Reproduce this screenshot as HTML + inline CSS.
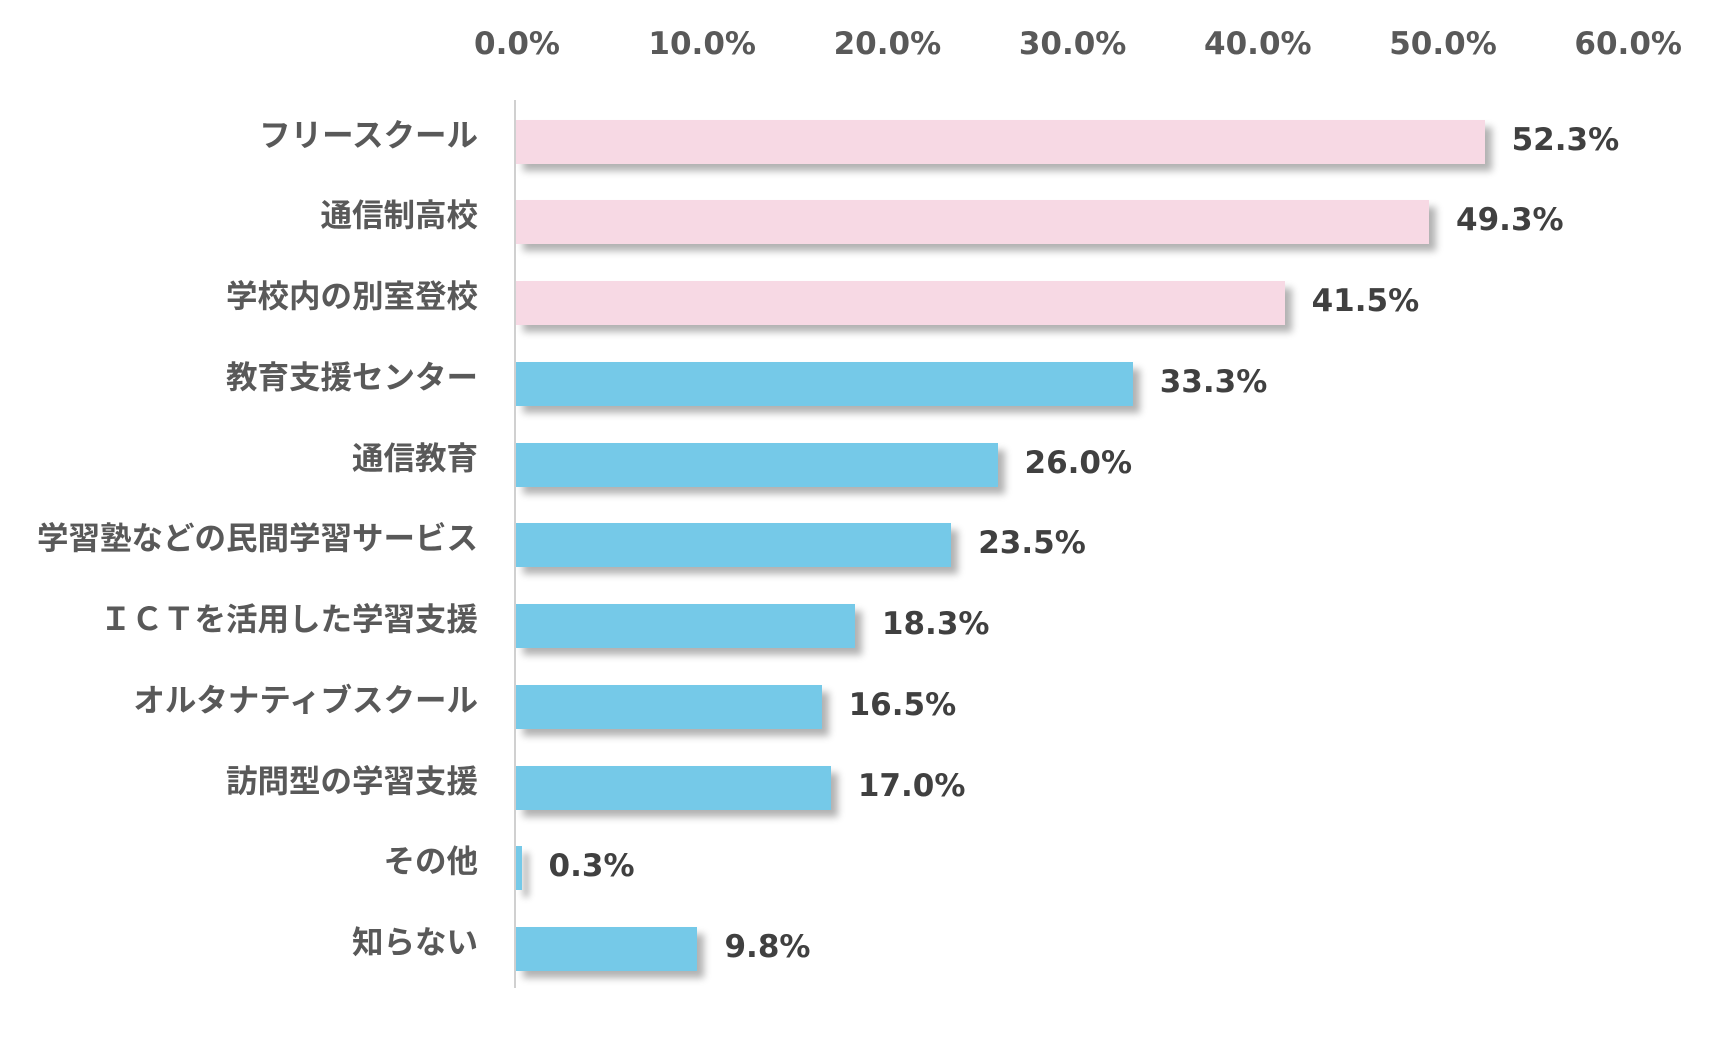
<!DOCTYPE html>
<html><head><meta charset="utf-8"><style>
body{margin:0;width:1733px;height:1039px;background:#fff;position:relative;overflow:hidden;font-family:"DejaVu Sans","Noto Sans CJK JP",sans-serif;font-weight:bold}
.t{position:absolute;top:26px;font-size:31px;color:#595959;transform:translateX(-50%);white-space:nowrap}
.l{position:absolute;right:1255px;font-size:31.5px;color:#595959;white-space:nowrap;line-height:44px;font-family:"Noto Sans CJK JP",sans-serif}
.b{position:absolute;left:516px;height:44px;box-shadow:7px 7px 7px rgba(0,0,0,0.3)}
.v{position:absolute;font-size:31px;color:#404040;line-height:44px;white-space:nowrap}
.ax{position:absolute;left:514px;top:100px;width:2px;height:888px;background:#d0d0d0}
</style></head><body>
<div class="ax"></div>
<div id="c"></div>
<script>
var ticks=["0.0%","10.0%","20.0%","30.0%","40.0%","50.0%","60.0%"];
var h="";
ticks.forEach(function(t,i){h+='<div class="t" style="left:'+(517+i*185.2)+'px">'+t+'</div>';});
var d=[["フリースクール",52.3,1],["通信制高校",49.3,1],["学校内の別室登校",41.5,1],["教育支援センター",33.3,0],["通信教育",26.0,0],["学習塾などの民間学習サービス",23.5,0],["ＩＣＴを活用した学習支援",18.3,0],["オルタナティブスクール",16.5,0],["訪問型の学習支援",17.0,0],["その他",0.3,0],["知らない",9.8,0]];
d.forEach(function(r,i){var c=141.5+i*80.75;var top=c-22;var w=r[1]*18.52;
h+='<div class="l" style="top:'+(top-9)+'px">'+r[0]+'</div>';
h+='<div class="b" style="top:'+top+'px;width:'+Math.max(w,4)+'px;background:'+(r[2]?'#f7d9e4':'#75c9e8')+'"></div>';
h+='<div class="v" style="top:'+(top-2)+'px;left:'+(516+Math.max(w,4)+27)+'px">'+r[1].toFixed(1)+'%</div>';});
document.getElementById("c").innerHTML=h;
</script>
</body></html>
